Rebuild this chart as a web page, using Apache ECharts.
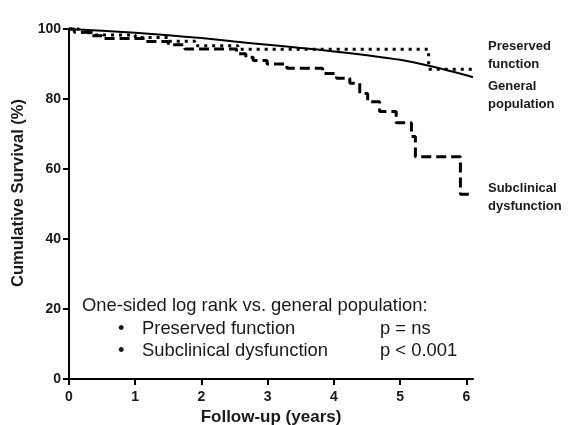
<!DOCTYPE html>
<html>
<head>
<meta charset="utf-8">
<script src="https://cdn.jsdelivr.net/npm/echarts@6/dist/echarts.min.js"></script>
<style>
  html, body { margin: 0; padding: 0; background: #fff; }
  #main { width: 568px; height: 425px; }
</style>
</head>
<body>
<div id="main"></div>
<script>
// survival data (years, %)
var genTimes = [0, 0.5, 1, 1.5, 2, 2.5, 3, 3.5, 4, 4.5, 5, 5.5, 6, 6.1];
var genSurv  = [100, 99.5, 98.9, 98.2, 97.4, 96.4, 95.5, 94.6, 93.6, 92.5, 91.2, 89.2, 86.8, 86.2];

var presTimes = [0, 0.15, 0.4, 1.0, 1.5, 1.9, 2.55, 5.43, 6.09];
var presSurv  = [100, 99, 98.3, 97.6, 96.5, 95.2, 94.2, 88.5, 88.5];

var subTimes = [0, 0.08, 0.3, 0.5, 1.15, 1.5, 1.75, 2.53, 2.67, 2.78, 2.99, 3.29, 3.83, 4.04, 4.24, 4.39, 4.51, 4.69, 4.94, 5.17, 5.23, 5.91, 6.09];
var subSurv  = [100, 99.1, 98.1, 97.3, 96.4, 95.5, 94.3, 92.9, 91.9, 91, 90, 88.8, 87.3, 85.9, 84.5, 81.6, 79.2, 76.4, 73.2, 69.3, 63.5, 52.8, 52.8];

var xTicks = [0, 1, 2, 3, 4, 5, 6];

function zip(a, b) {
    var out = [];
    for (var i = 0; i < a.length; i++) out.push([a[i], b[i]]);
    return out;
}

var chart = echarts.init(document.getElementById('main'));

var txt = '#1a1a1a';
var boldFont = 'bold 13px "Liberation Sans", Arial, sans-serif';
var noteFont = '18.4px "Liberation Sans", Arial, sans-serif';

var option = {
    animation: false,
    backgroundColor: '#fff',
    grid: { left: 69, right: 95, top: 29, bottom: 46, outerBoundsMode: 'none' },
    xAxis: {
        type: 'value',
        min: 0,
        max: 6.1,
        name: 'Follow-up (years)',
        nameLocation: 'middle',
        nameGap: 24,
        nameTextStyle: { color: txt, fontWeight: 'bold', fontSize: 17, fontFamily: 'Liberation Sans' },
        axisLine: { lineStyle: { color: '#000', width: 2 } },
        axisTick: { length: 6, lineStyle: { color: '#000', width: 2 }, customValues: xTicks },
        axisLabel: { color: txt, fontWeight: 'bold', fontSize: 14, fontFamily: 'Liberation Sans', margin: 11, customValues: xTicks },
        splitLine: { show: false }
    },
    yAxis: {
        type: 'value',
        min: 0,
        max: 100,
        interval: 20,
        axisLine: { show: true, lineStyle: { color: '#000', width: 2 } },
        axisTick: { show: true, length: 6, lineStyle: { color: '#000', width: 2 } },
        axisLabel: { color: txt, fontWeight: 'bold', fontSize: 14, fontFamily: 'Liberation Sans', margin: 8 },
        splitLine: { show: false }
    },
    series: [
        {
            name: 'General population',
            type: 'line',
            smooth: 0.3,
            symbol: 'none',
            clip: false,
            data: zip(genTimes, genSurv),
            lineStyle: { color: '#000', width: 2 }
        },
        {
            name: 'Preserved function',
            type: 'line',
            step: 'end',
            symbol: 'none',
            clip: false,
            data: zip(presTimes, presSurv),
            lineStyle: { color: '#000', width: 3, type: [3, 5] }
        },
        {
            name: 'Subclinical dysfunction',
            type: 'line',
            step: 'end',
            symbol: 'none',
            clip: false,
            data: zip(subTimes, subSurv),
            lineStyle: { color: '#000', width: 3, type: [10, 5] }
        }
    ],
    graphic: [
        // y axis title, placed by hand to sit a bit above the plot centre as in the original
        { type: 'text', x: 18, y: 193, rotation: Math.PI / 2,
          style: { text: 'Cumulative Survival (%)', font: 'bold 16.5px "Liberation Sans", Arial, sans-serif', fill: txt, align: 'center', verticalAlign: 'middle' } },
        { type: 'text', x: 488, y: 37, style: { text: 'Preserved\nfunction', font: boldFont, fill: txt, lineHeight: 18 } },
        { type: 'text', x: 488, y: 77, style: { text: 'General\npopulation', font: boldFont, fill: txt, lineHeight: 18 } },
        { type: 'text', x: 488, y: 179, style: { text: 'Subclinical\ndysfunction', font: boldFont, fill: txt, lineHeight: 18 } },
        { type: 'text', x: 82, y: 297, style: { text: 'One-sided log rank vs. general population:', font: noteFont, fill: txt } },
        { type: 'text', x: 118, y: 320, style: { text: '•', font: noteFont, fill: txt } },
        { type: 'text', x: 142, y: 320, style: { text: 'Preserved function', font: noteFont, fill: txt } },
        { type: 'text', x: 380, y: 320, style: { text: 'p = ns', font: noteFont, fill: txt } },
        { type: 'text', x: 118, y: 342, style: { text: '•', font: noteFont, fill: txt } },
        { type: 'text', x: 142, y: 342, style: { text: 'Subclinical dysfunction', font: noteFont, fill: txt } },
        { type: 'text', x: 380, y: 342, style: { text: 'p < 0.001', font: noteFont, fill: txt } }
    ]
};

chart.setOption(option);
</script>
</body>
</html>
